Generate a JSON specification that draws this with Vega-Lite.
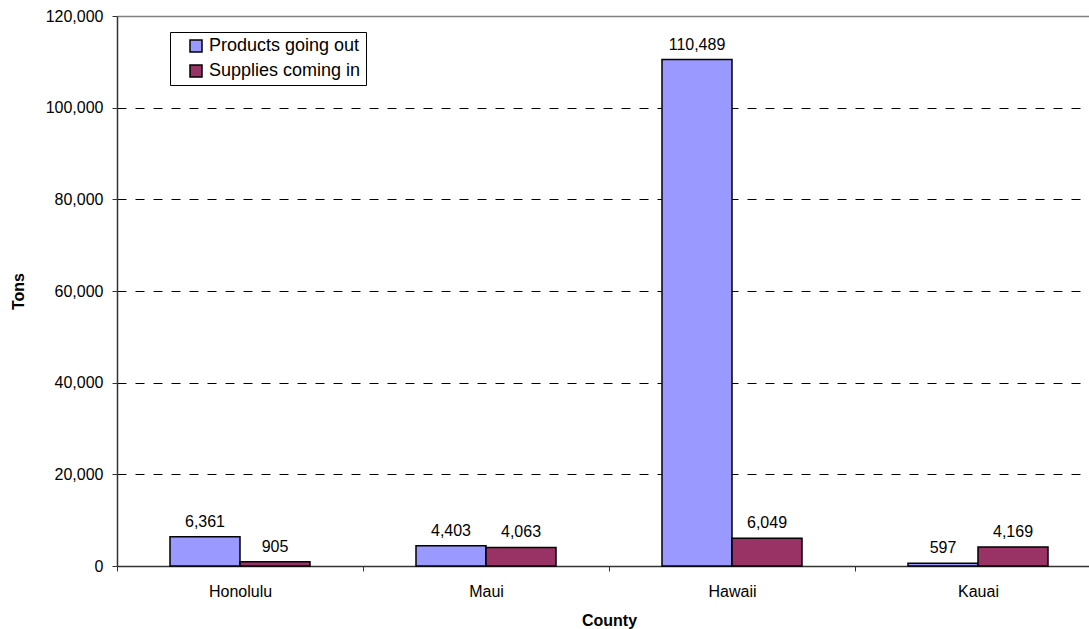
{
  "$schema": "https://vega.github.io/schema/vega-lite/v6.json",
  "width": 972,
  "height": 550,
  "autosize": {"type": "none"},
  "padding": {"left": 117, "top": 16, "right": 0, "bottom": 63},
  "config": {"font": "Liberation Sans", "view": {"stroke": null}},
  "data": {
    "values": [
      {"county": "Honolulu", "flow": "Products going out", "tons": 6361},
      {"county": "Honolulu", "flow": "Supplies coming in", "tons": 905},
      {"county": "Maui", "flow": "Products going out", "tons": 4403},
      {"county": "Maui", "flow": "Supplies coming in", "tons": 4063},
      {"county": "Hawaii", "flow": "Products going out", "tons": 110489},
      {"county": "Hawaii", "flow": "Supplies coming in", "tons": 6049},
      {"county": "Kauai", "flow": "Products going out", "tons": 597},
      {"county": "Kauai", "flow": "Supplies coming in", "tons": 4169}
    ]
  },
  "encoding": {
    "x": {
      "field": "county",
      "type": "nominal",
      "sort": ["Honolulu", "Maui", "Hawaii", "Kauai"],
      "scale": {"range": [0, 984], "paddingInner": 0, "paddingOuter": 0},
      "axis": {
        "title": "County",
        "titleFontSize": 16,
        "titleFontWeight": "bold",
        "titleColor": "black",
        "titlePadding": 13,
        "labelAngle": 0,
        "labelFontSize": 16,
        "labelColor": "black",
        "labelPadding": 12,
        "tickBand": "extent",
        "tickSize": 5,
        "tickColor": "#333333",
        "domainColor": "#333333",
        "domainWidth": 1.5,
        "grid": false
      }
    },
    "xOffset": {
      "field": "flow",
      "sort": ["Products going out", "Supplies coming in"],
      "scale": {"paddingOuter": 0.757, "paddingInner": 0}
    },
    "y": {
      "field": "tons",
      "type": "quantitative",
      "scale": {"domain": [0, 120000], "nice": false},
      "axis": {
        "title": "Tons",
        "titleFontSize": 16,
        "titleFontWeight": "bold",
        "titleColor": "black",
        "titlePadding": 19,
        "values": [0, 20000, 40000, 60000, 80000, 100000, 120000],
        "format": ",.0f",
        "labelFontSize": 16,
        "labelColor": "black",
        "labelPadding": 9,
        "tickSize": 5,
        "tickColor": "#333333",
        "domainColor": "#333333",
        "domainWidth": 1.5,
        "grid": true,
        "gridColor": {"condition": {"test": "datum.value === 120000", "value": "#808080"}, "value": "black"},
        "gridDash": {"condition": {"test": "datum.value === 120000", "value": []}, "value": [9, 9]},
        "gridWidth": {"condition": {"test": "datum.value === 120000", "value": 1.5}, "value": 1}
      }
    }
  },
  "layer": [
    {
      "mark": {"type": "bar", "stroke": "black", "strokeWidth": 1.5},
      "encoding": {
        "color": {
          "field": "flow",
          "type": "nominal",
          "sort": ["Products going out", "Supplies coming in"],
          "scale": {"domain": ["Products going out", "Supplies coming in"], "range": ["#9999FF", "#993366"]},
          "legend": {
            "title": null,
            "orient": "none",
            "legendX": 53,
            "legendY": 16,
            "direction": "vertical",
            "strokeColor": "black",
            "fillColor": "white",
            "padding": 5,
            "rowPadding": 7,
            "symbolType": "square",
            "symbolSize": 144,
            "symbolStrokeColor": "black",
            "symbolStrokeWidth": 1.5,
            "symbolOffset": 12,
            "labelFontSize": 18,
            "labelColor": "black",
            "labelOffset": 4
          }
        }
      }
    },
    {
      "mark": {"type": "text", "baseline": "alphabetic", "dy": -10, "fontSize": 16, "color": "black"},
      "encoding": {"text": {"field": "tons", "type": "quantitative", "format": ",.0f"}}
    }
  ]
}
